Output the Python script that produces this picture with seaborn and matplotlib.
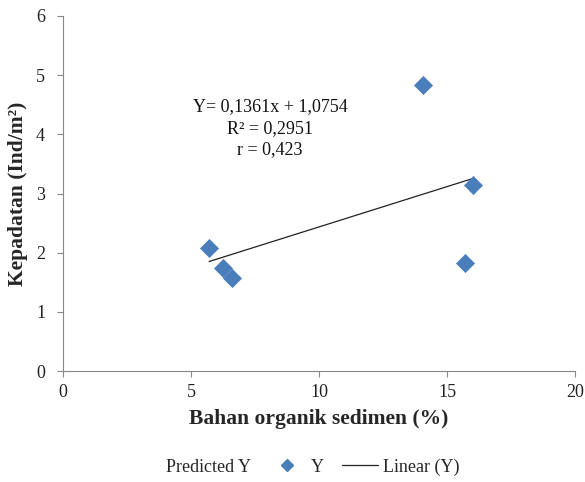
import numpy as np
import pandas as pd
import matplotlib
matplotlib.use('Agg')
import matplotlib.pyplot as plt
from matplotlib.lines import Line2D
import seaborn as sns

# values
bahan_organik = [5.70, 6.26, 6.59, 14.05, 16.00, 15.70]
kepadatan = [2.08, 1.75, 1.58, 4.83, 3.14, 1.83]
# trendline coefficients as printed on the chart
slope, intercept = 0.1361, 1.0754
eq_lines = ['Y= 0,1361x + 1,0754', 'R² = 0,2951', 'r = 0,423']

df = pd.DataFrame({'x': bahan_organik, 'y': kepadatan})
xs = np.array([min(bahan_organik), max(bahan_organik)])
df_trend = pd.DataFrame({'x': xs, 'y': slope * xs + intercept})

sns.set_style('white')
plt.rcParams['font.family'] = ['Liberation Serif', 'DejaVu Serif']

fig = plt.figure(figsize=(5.85, 4.82), dpi=100)
ax = fig.add_axes([0.108, 0.230, 0.875, 0.737])

sns.lineplot(data=df_trend, x='x', y='y', ax=ax, color='#222222', linewidth=0.9)
sns.scatterplot(data=df, x='x', y='y', ax=ax, marker='D', s=85, color='#4A7EBB',
                edgecolor='#4A7EBB', linewidth=0.5, zorder=3)

ax.set_xlim(0, 20)
ax.set_ylim(0, 6)
ax.set_xticks([0, 5, 10, 15, 20])
ax.set_yticks([0, 1, 2, 3, 4, 5, 6])
ax.tick_params(axis='both', labelsize=13, colors='#222222', length=4, width=0.8,
               direction='out', color='#888888', left=True, bottom=True)
ax.tick_params(axis='y', pad=9)
ax.tick_params(axis='x', pad=5)
for sp in ['top', 'right']:
    ax.spines[sp].set_visible(False)
for sp in ['left', 'bottom']:
    ax.spines[sp].set_color('#888888')
    ax.spines[sp].set_linewidth(0.8)

ax.set_xlabel('Bahan organik sedimen (%)', fontsize=15.5, fontweight='bold', labelpad=6)
ax.set_ylabel('Kepadatan (Ind/m²)', fontsize=15.5, fontweight='bold', labelpad=6)

for i, t in enumerate(eq_lines):
    fig.text(270 / 585, 1 - (107 + i * 21.5) / 482, t, ha='center', va='center',
             fontsize=13, color='#111111')

handles = [Line2D([], [], linestyle='none', marker=None),
           Line2D([], [], linestyle='none', marker='D', markersize=6,
                  color='#4A7EBB'),
           Line2D([], [], color='#222222', linewidth=0.9)]
fig.legend(handles, ['Predicted Y', 'Y', 'Linear (Y)'], loc='center',
           bbox_to_anchor=(292 / 585, 1 - 467 / 482), ncol=3, frameon=False,
           fontsize=13, handlelength=2.0, columnspacing=1.0, handletextpad=0.3)

fig.savefig('out.png', dpi=100)
